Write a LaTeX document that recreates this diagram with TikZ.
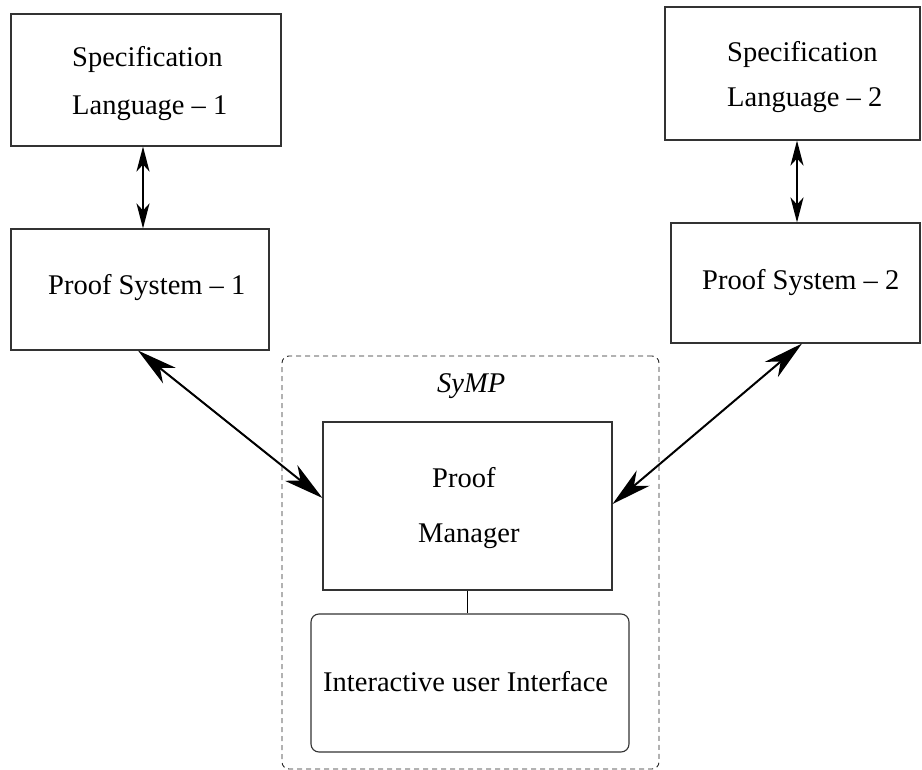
\documentclass[tikz,border=0pt]{standalone}
\usepackage{fontspec}
\setmainfont{Liberation Serif}
\usetikzlibrary{arrows.meta}
\begin{document}
\begin{tikzpicture}[x=1pt,y=-1pt,
  box/.style={draw=black!80, line width=1.1pt, inner sep=0pt, fill=none},
  lbl/.style={font=\fontsize{28.5}{34}\selectfont, inner sep=0pt, anchor=base west},
  bigarr/.style={line width=2pt, {Stealth[length=40pt,width=20pt,inset=12pt]}-{Stealth[length=40pt,width=20pt,inset=12pt]}},
  smallarr/.style={line width=2pt, {Stealth[length=25pt,width=13pt,inset=7pt]}-{Stealth[length=25pt,width=13pt,inset=7pt]}},
  dashbox/.style={draw=black!85, line width=0.9pt, dash pattern=on 5pt off 4pt, rounded corners=7pt, inner sep=0pt}
]
\useasboundingbox (0,0) rectangle (922,770);

% boxes
\node[box, minimum width=270pt, minimum height=132pt] (spec1) at (146,80) {};
\node[box, minimum width=258pt, minimum height=121pt] (ps1) at (140,289.5) {};
\node[box, minimum width=255pt, minimum height=133pt] (spec2) at (792.5,73.5) {};
\node[box, minimum width=249pt, minimum height=120pt] (ps2) at (795.5,283) {};
\node[dashbox, minimum width=377pt, minimum height=413pt] (symp) at (470.5,562.5) {};
\node[box, minimum width=289pt, minimum height=168pt] (pm) at (467.5,506) {};
\node[box, rounded corners=8pt, minimum width=318pt, minimum height=138pt] (iui) at (470,683) {};

% texts
\node[lbl] (t1a) at (72,67) {Specification};
\node[lbl] (t1b) at (72,115) {Language -- 1};
\node[lbl] (t2a) at (727,62) {Specification};
\node[lbl] (t2b) at (727,107) {Language -- 2};
\node[lbl] (t3) at (48,295) {Proof System -- 1};
\node[lbl] (t4) at (702,290) {Proof System -- 2};
\node[lbl] (t5) at (437,392) {\itshape SyMP};
\node[lbl] (t6) at (432,487) {Proof};
\node[lbl] (t7) at (418,542) {Manager};
\node[lbl] (t8) at (323,691) {Interactive user Interface};

% helper coordinates
\coordinate (c1) at (143,0);
\coordinate (c2) at (797,0);
\coordinate (d1) at (138,0);
\coordinate (d2) at (0,498);
\coordinate (d3) at (802,0);
\coordinate (d4) at (0,504);

% connectors
\draw[smallarr] (spec1.south -| c1) -- (ps1.north -| c1);
\draw[smallarr] (spec2.south -| c2) -- (ps2.north -| c2);
\draw[bigarr] (ps1.south -| d1) -- (pm.west |- d2);
\draw[bigarr] (ps2.south -| d3) -- (pm.east |- d4);
\draw[line width=1.8pt] (pm.south) -- (pm.south |- iui.north);
\end{tikzpicture}
\end{document}
